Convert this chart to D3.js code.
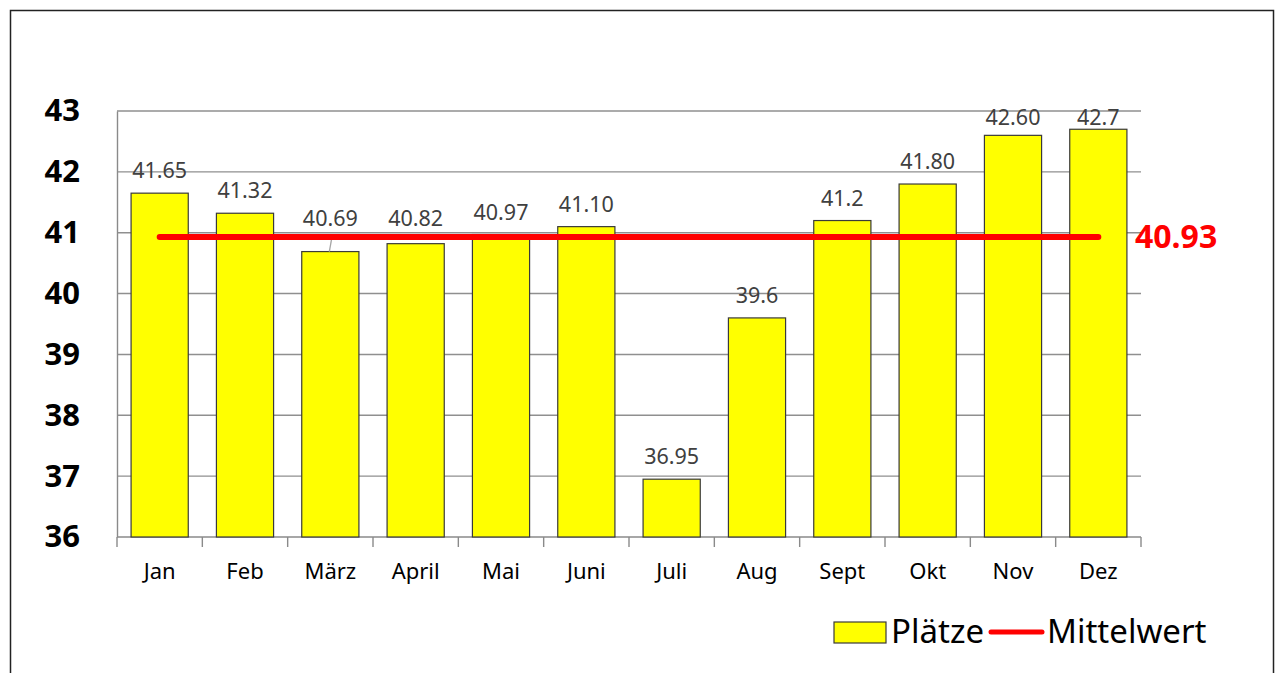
<!DOCTYPE html>
<html>
<head>
<meta charset="utf-8">
<script src="https://cdn.jsdelivr.net/npm/d3@7"></script>
<style>
  body { margin: 0; background: #fff; }
  text { font-family: "Noto Sans", "Open Sans", sans-serif; }
</style>
</head>
<body>
<div id="chart"></div>
<script>
var months = ["Jan", "Feb", "März", "April", "Mai", "Juni", "Juli", "Aug", "Sept", "Okt", "Nov", "Dez"];
var plaetze = [41.65, 41.32, 40.69, 40.82, 40.97, 41.10, 36.95, 39.6, 41.2, 41.80, 42.60, 42.7];
var valueLabels = ["41.65", "41.32", "40.69", "40.82", "40.97", "41.10", "36.95", "39.6", "41.2", "41.80", "42.60", "42.7"];
var meanValue = 40.93;
var meanLabel = "40.93";
var yTicks = [36, 37, 38, 39, 40, 41, 42, 43];

var svgWidth = 1278;
var svgHeight = 673;

var margin = { top: 111, right: 137, bottom: 136, left: 117 };
var width = svgWidth - margin.left - margin.right;
var height = svgHeight - margin.top - margin.bottom;

var svg = d3.select("#chart")
  .append("svg")
  .attr("width", svgWidth)
  .attr("height", svgHeight);

// outer frame (bottom runs off the picture)
svg.append("rect")
  .attr("x", 10.5)
  .attr("y", 10.5)
  .attr("width", 1263)
  .attr("height", 700)
  .attr("fill", "none")
  .attr("stroke", "#222")
  .attr("stroke-width", 1.5);

var chartGroup = svg.append("g")
  .attr("transform", `translate(${margin.left}, ${margin.top})`);

var x = d3.scaleBand()
  .domain(months)
  .range([0, width])
  .paddingInner(0.33)
  .paddingOuter(0.165);

var y = d3.scaleLinear()
  .domain([36, 43])
  .range([height, 0]);

// gridlines
chartGroup.append("g")
  .selectAll("line")
  .data(yTicks.slice(1))
  .enter()
  .append("line")
  .attr("x1", 0)
  .attr("x2", width)
  .attr("y1", d => y(d))
  .attr("y2", d => y(d))
  .attr("stroke", "#8f8f8f")
  .attr("stroke-width", 1.4);

// y axis line + labels
var leftAxis = d3.axisLeft(y)
  .tickValues(yTicks)
  .tickFormat(d3.format("d"))
  .tickSize(0)
  .tickPadding(37);
var yAxisG = chartGroup.append("g").call(leftAxis);
yAxisG.select(".domain").attr("stroke", "#8a8a8a").attr("stroke-width", 1.4);
yAxisG.selectAll("text")
  .attr("font-family", "Noto Sans")
  .attr("font-size", 31)
  .attr("font-weight", "bold")
  .attr("fill", "#000");

// x axis with boundary ticks
chartGroup.append("line")
  .attr("x1", 0).attr("x2", width)
  .attr("y1", height).attr("y2", height)
  .attr("stroke", "#8a8a8a").attr("stroke-width", 1.4);

var step = x.step();
chartGroup.append("g")
  .selectAll("line")
  .data(d3.range(months.length + 1))
  .enter()
  .append("line")
  .attr("x1", i => i * step)
  .attr("x2", i => i * step)
  .attr("y1", height)
  .attr("y2", height + 10)
  .attr("stroke", "#8a8a8a")
  .attr("stroke-width", 1.4);

chartGroup.append("g")
  .selectAll("text")
  .data(months)
  .enter()
  .append("text")
  .attr("x", d => x(d) + x.bandwidth() / 2)
  .attr("y", height + 42)
  .attr("text-anchor", "middle")
  .attr("font-size", 22)
  .attr("fill", "#000")
  .text(d => d);

// bars
chartGroup.selectAll("rect.bar")
  .data(plaetze)
  .enter()
  .append("rect")
  .attr("class", "bar")
  .attr("x", (d, i) => x(months[i]))
  .attr("y", d => y(d))
  .attr("width", x.bandwidth())
  .attr("height", d => height - y(d))
  .attr("fill", "#ffff00")
  .attr("stroke", "#3a3a3a")
  .attr("stroke-width", 1.2);

// data labels
var yMean = y(meanValue);
var labelPos = plaetze.map(function(d) {
  var base = Math.max(y(d) - 15, 14);
  // push label clear of the mean line
  if (base > yMean - 11 && base - 14 < yMean + 3) base = yMean - 11;
  return base;
});

chartGroup.append("g")
  .selectAll("line")
  .data(plaetze)
  .enter()
  .filter((d, i) => y(d) - labelPos[i] > 22)
  .append("line")
  .attr("x1", function(d) { var i = plaetze.indexOf(d); return x(months[i]) + x.bandwidth() / 2 + 2; })
  .attr("y1", function(d) { var i = plaetze.indexOf(d); return labelPos[i] + 9; })
  .attr("x2", function(d) { var i = plaetze.indexOf(d); return x(months[i]) + x.bandwidth() / 2 - 1; })
  .attr("y2", d => y(d))
  .attr("stroke", "#a6a6a6")
  .attr("stroke-width", 1.3);

chartGroup.append("g")
  .selectAll("text")
  .data(plaetze)
  .enter()
  .append("text")
  .attr("x", (d, i) => x(months[i]) + x.bandwidth() / 2)
  .attr("y", (d, i) => labelPos[i])
  .attr("text-anchor", "middle")
  .attr("font-size", 21.5)
  .attr("fill", "#404040")
  .text((d, i) => valueLabels[i]);

// mean line
var meanLine = d3.line()
  .x(d => x(d) + x.bandwidth() / 2)
  .y(() => y(meanValue));

chartGroup.append("path")
  .datum(months)
  .attr("d", meanLine)
  .attr("fill", "none")
  .attr("stroke", "#ff0000")
  .attr("stroke-width", 6)
  .attr("stroke-linecap", "round");

chartGroup.append("text")
  .attr("x", width - 6)
  .attr("y", y(meanValue) + 11)
  .attr("font-size", 32)
  .attr("font-weight", "bold")
  .attr("fill", "#ff0000")
  .text(meanLabel);

// legend
var legend = svg.append("g");
legend.append("rect")
  .attr("x", 834).attr("y", 622)
  .attr("width", 52).attr("height", 21)
  .attr("fill", "#ffff00")
  .attr("stroke", "#3a3a3a")
  .attr("stroke-width", 1.2);
legend.append("text")
  .attr("x", 891).attr("y", 643)
  .attr("font-size", 33)
  .attr("fill", "#000")
  .text("Plätze");
legend.append("line")
  .attr("x1", 991).attr("x2", 1042)
  .attr("y1", 632).attr("y2", 632)
  .attr("stroke", "#ff0000")
  .attr("stroke-width", 5)
  .attr("stroke-linecap", "round");
legend.append("text")
  .attr("x", 1047).attr("y", 643)
  .attr("font-size", 33)
  .attr("fill", "#000")
  .text("Mittelwert");
</script>
</body>
</html>
